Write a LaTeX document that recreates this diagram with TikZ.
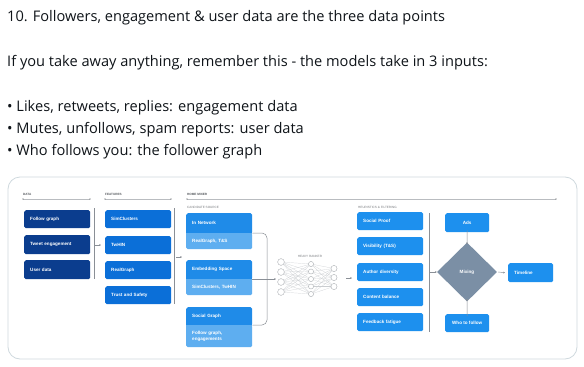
\documentclass[tikz,border=0pt]{standalone}
\usepackage{fontspec}
\setmainfont{Open Sans}
\newfontfamily\diafont{Liberation Sans}
\usetikzlibrary{arrows.meta,shapes.geometric}
\definecolor{tw}{HTML}{0F1419}
\definecolor{datac}{HTML}{0B3D8E}
\definecolor{featc}{HTML}{0B6FD8}
\definecolor{hmdark}{HTML}{1F8BE8}
\definecolor{hmlight}{HTML}{5EAEF0}
\definecolor{heurc}{HTML}{1D90EE}
\definecolor{mixc}{HTML}{7B8FA5}
\definecolor{framec}{HTML}{CFD9DE}
\definecolor{linec}{HTML}{8A8F96}
\definecolor{hdrc}{HTML}{55595E}
\tikzset{
  tweet/.style={anchor=base west, inner sep=0pt, text=tw, font=\fontsize{14.6}{17}\selectfont},
  bx/.style={anchor=north west, inner xsep=6pt, inner ysep=0pt, text width=54pt, align=left,
             text=white, font=\diafont\bfseries\fontsize{4.6}{5.4}\selectfont, rounded corners=1.6pt,
             minimum width=66pt},
  sbx/.style={anchor=north west, inner xsep=0pt, inner ysep=0pt, minimum width=44pt,
             text=white, font=\diafont\bfseries\fontsize{4.6}{5.4}\selectfont, rounded corners=1.6pt, align=center},
  hdr/.style={anchor=base west, inner sep=0pt, text=hdrc, font=\diafont\bfseries\fontsize{3.1}{4}\selectfont},
  sub/.style={anchor=base west, inner sep=0pt, text=hdrc!80, font=\diafont\fontsize{3.1}{4}\selectfont},
  rule/.style={draw=linec!60, line width=0.6pt},
  vbar/.style={draw=linec, line width=0.5pt},
  arr/.style={draw=linec, line width=0.45pt, -{Stealth[length=1.8pt,width=1.8pt]}},
  conn/.style={draw=linec, line width=0.5pt},
  nn/.style={circle, draw=linec!70, fill=white, line width=0.3pt, inner sep=0pt},
}
\begin{document}
\begin{tikzpicture}[x=1pt,y=-1pt]
\useasboundingbox (0,0) rectangle (584,367);
\fill[white] (0,0) rectangle (584,367);

% tweet text
\node[tweet] (t1) at (7,21) {10. Followers, engagement \& user data are the three data points};
\node[tweet] (t2) at (7,66) {If you take away anything, remember this - the models take in 3 inputs:};
\node[tweet] (t3) at (7,111) {• Likes, retweets, replies: engagement data};
\node[tweet] (t4) at (7,133) {• Mutes, unfollows, spam reports: user data};
\node[tweet] (t5) at (7,155) {• Who follows you: the follower graph};

% frame
\draw[framec, line width=0.8pt, rounded corners=12pt] (8,177) rectangle (577,359);

% headers
\node[hdr] (hdata) at (23,195) {DATA};
\node[hdr] (hfeat) at (105,195) {FEATURES};
\node[hdr] (hhm) at (187,195) {HOME MIXER};
\node[sub] (hcand) at (187,208) {CANDIDATE SOURCE};
\node[sub] (hheur) at (358,208) {HEURISTICS \& FILTERING};
\node[sub, anchor=base] (hrank) at (310,257) {HEAVY RANKER};
\coordinate (r1a) at (23,199); \coordinate (r1b) at (90,199);
\coordinate (r2a) at (105,199); \coordinate (r2b) at (171,199);
\coordinate (r3a) at (187,199); \coordinate (r3b) at (556,199);
\foreach \a/\b in {r1a/r1b,r2a/r2b,r3a/r3b}{
  \draw[rule] (\a) -- (\b);
  \fill[hdrc] (\a) circle (0.6pt);
  \fill[hdrc] (\b) circle (0.6pt);
}

% data
\node[bx, fill=datac, minimum height=18pt] (fg) at (24,210) {Follow graph};
\node[bx, fill=datac, minimum height=19pt] (te) at (24,235) {Tweet engagement};
\node[bx, fill=datac, minimum height=19pt] (ud) at (24,260) {User data};
\coordinate (v1a) at (94,208); \coordinate (v1b) at (94,279);
\draw[vbar] (v1a) -- (v1b);
\coordinate (a1a) at (95,245); \coordinate (a1b) at (101,245);
\draw[arr] (a1a) -- (a1b);

% features
\node[bx, fill=featc, minimum height=18pt] (sc) at (105,210) {SimClusters};
\node[bx, fill=featc, minimum height=18pt] (tw) at (105,236) {TwHIN};
\node[bx, fill=featc, minimum height=18pt] (rg) at (105,261) {RealGraph};
\node[bx, fill=featc, minimum height=18pt] (ts) at (105,286) {Trust and Safety};
\coordinate (v2a) at (174,208); \coordinate (v2b) at (174,304);
\draw[vbar] (v2a) -- (v2b);
\coordinate (a2a) at (176,257); \coordinate (a2b) at (182,257);
\draw[arr] (a2a) -- (a2b);

% home mixer candidate sources
\node[bx, fill=hmlight, minimum height=16pt] (insub) at (186,233) {RealGraph, T\&S};
\node[bx, fill=hmdark, minimum height=20pt] (innet) at (186,213) {In Network};
\node[bx, fill=hmlight, minimum height=16pt] (embsub) at (186,279) {SimClusters, TwHIN};
\node[bx, fill=hmdark, minimum height=19pt] (emb) at (186,260) {Embedding Space};
\node[bx, fill=hmlight, minimum height=22pt] (socsub) at (186,325) {Follow graph,\\engagements};
\node[bx, fill=hmdark, minimum height=18pt] (soc) at (186,307) {Social Graph};
\foreach \t/\s in {innet/insub,emb/embsub,soc/socsub}{
  \fill[hmdark] ([yshift=2pt]\t.south west) rectangle (\t.south east);
  \fill[hmlight] (\s.north west) rectangle ([yshift=-2pt]\s.north east);
}
\coordinate (brk) at (267,279);
\draw[conn, rounded corners=5pt] (insub.north east) -| (brk) |- (socsub.north east);
\coordinate (nnin) at (276,279);
\draw[arr] (embsub.north east) -- (nnin);

% heavy ranker
\foreach \i/\y in {1/262,2/272,3/282,4/292}{ \node[nn, minimum size=6.6pt] (n\i) at (281,\y) {}; }
\foreach \i/\y in {1/264,2/271.5,3/279,4/286.5,5/294}{ \node[nn, minimum size=5pt] (m\i) at (311,\y) {}; }
\foreach \i/\y in {1/268.5,2/277.5,3/286.5}{ \node[nn, minimum size=6pt] (o\i) at (334,\y) {}; }
\foreach \i in {1,...,4}{\foreach \j in {1,...,5}{\draw[linec!45, line width=0.2pt] (n\i) -- (m\j);}}
\foreach \i in {1,...,5}{\foreach \j in {1,...,3}{\draw[linec!45, line width=0.2pt] (m\i) -- (o\j);}}
\foreach \i in {1,...,4}{ \node[nn, minimum size=6.6pt] at (n\i) {}; }
\foreach \i in {1,...,5}{ \node[nn, minimum size=5pt] at (m\i) {}; }
\foreach \i in {1,...,3}{ \node[nn, minimum size=6pt] at (o\i) {}; }
\coordinate (a3a) at (346,278); \coordinate (a3b) at (352,278);
\draw[arr] (a3a) -- (a3b);

% heuristics
\node[bx, fill=heurc, minimum height=18pt] (sp) at (357,212) {Social Proof};
\node[bx, fill=heurc, minimum height=18pt] (vis) at (357,237) {Visibility (T\&S)};
\node[bx, fill=heurc, minimum height=18pt] (ad) at (357,263) {Author diversity};
\node[bx, fill=heurc, minimum height=18pt] (cb) at (357,288) {Content balance};
\node[bx, fill=heurc, minimum height=18pt] (ff) at (357,313) {Feedback fatigue};
\coordinate (v3a) at (429,213); \coordinate (v3b) at (429,332);
\draw[vbar] (v3a) -- (v3b);

% mixing
\node[diamond, fill=mixc, minimum width=60pt, minimum height=59pt, inner sep=0pt,
      text=white, font=\diafont\bfseries\fontsize{4.6}{5.4}\selectfont] (mix) at (467,272) {Mixing};
\coordinate (a4a) at (430,272);
\draw[arr] (a4a) -- (mix.west);
\node[sbx, fill=heurc, minimum height=19pt] (ads) at (445,213) {Ads};
\node[sbx, fill=heurc, minimum height=18pt] (wtf) at (445,314) {Who to follow};
\node[bx, fill=heurc, minimum width=45pt, text width=33pt, minimum height=19pt] (tl) at (508,263) {Timeline};
\draw[arr] ([yshift=2pt]ads.south) -- ([yshift=-2pt]mix.north);
\draw[arr] ([yshift=-2pt]wtf.north) -- ([yshift=3pt]mix.south);
\draw[arr] ([xshift=1pt]mix.east) -- ([xshift=-3pt]tl.west);
\end{tikzpicture}
\end{document}
